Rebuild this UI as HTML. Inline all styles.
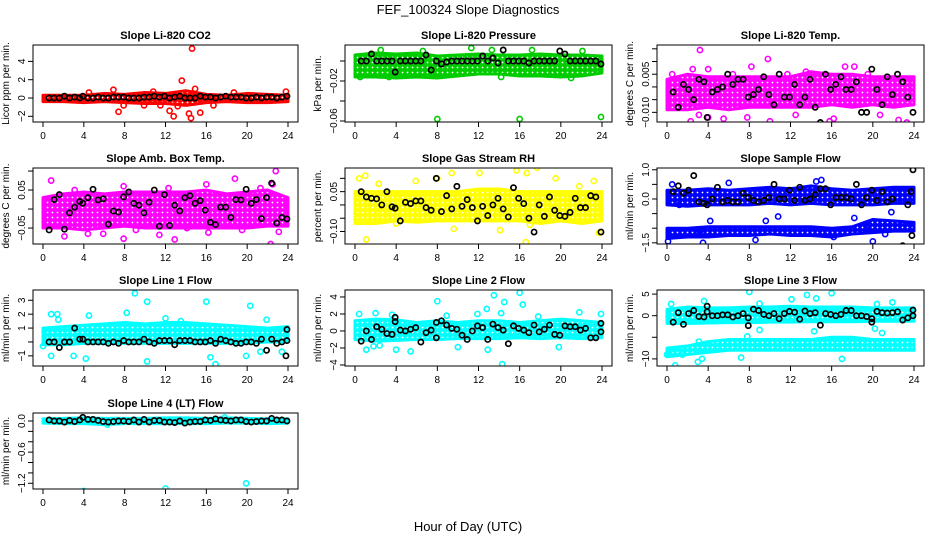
<!DOCTYPE html>
<html><head><meta charset="utf-8"><style>
html,body{margin:0;padding:0;background:#fff}
svg text{font-family:"Liberation Sans",Arial,sans-serif}
</style></head><body>
<svg id="chart" width="936" height="540" viewBox="0 0 936 540" xmlns="http://www.w3.org/2000/svg">
<defs id="defs"></defs>
<text x="468" y="14" text-anchor="middle" font-size="13">FEF_100324  Slope Diagnostics</text>
<text x="468" y="531" text-anchor="middle" font-size="13">Hour of Day (UTC)</text>
</svg>
<script>
const xTicks=[0,4,8,12,16,20,24];
const bandHrs=[0,2,4,6,8,10,12,14,16,18,20,22,24];
const blackHrs=[0.6,1.1,1.6,2.1,2.6,3.1,3.6,3.9,4.4,4.9,5.4,5.9,6.4,6.9,7.4,7.9,8.4,8.9,9.4,9.9,10.4,10.9,11.4,11.9,12.4,12.9,13.4,13.9,14.4,14.9,15.4,15.9,16.4,16.9,17.4,17.9,18.4,18.9,19.4,19.9,20.4,20.9,21.4,21.9,22.4,22.9,23.4,23.9];

// Panel 1: CO2
const co2Lo=[-0.4,-0.4,-0.5,-0.4,-0.5,-0.6,-0.6,-0.8,-0.5,-0.4,-0.5,-0.5,-0.4];
const co2Hi=[0.3,0.3,0.3,0.5,0.4,0.6,0.5,0.8,0.4,0.3,0.5,0.4,0.3];
const co2OutHrs=[14.6,13.6,14.5,12.8,15.4,7.4,14.3,12.4,6.9,14.9,10.8,9.9,13.2,16.7,4.5,18.7,23.8,11.5,7.9];
const co2OutVals=[5.4,1.9,-2.2,-2,-1.6,-1.5,-1.7,-1.4,0.9,1,0.7,-0.8,-0.9,-0.8,0.6,0.6,0.7,-0.8,-0.8];
const co2Black=[0,0,0,0.2,0,0.1,0,0.2,0,0,0.1,0,0,0.1,0.1,0.1,0,0,0,0.1,0.1,0.2,0.1,0.2,0,0.1,0.2,0,0,0,0.2,0.1,0.1,0,0.1,0.2,0.1,0.1,0.1,0,0,0.1,0,0.1,0.1,0,0.1,0.2];
const co2Ticks=[-2,0,2,4];

// Panel 2: Pressure
const prLo=[-0.016,-0.016,-0.017,-0.016,-0.017,-0.015,-0.013,-0.013,-0.015,-0.015,-0.016,-0.015,-0.012];
const prHi=[0.006,0.008,0.007,0.008,0.005,0.006,0.007,0.006,0.006,0.007,0.006,0.006,0.005];
const prOutHrs=[8,16,23.9,11.3,2.5,6.6,13.3,17.2,22.1,21,0.5,3.3,14.2];
const prOutVals=[-0.058,-0.058,-0.056,0.013,0.011,0.01,0.011,0.011,0.01,-0.017,-0.016,-0.016,-0.016];
const prBlack=[0,0,0.007,0,0,0,0,-0.011,0,0,0,0,0,0.006,-0.009,0,-0.003,-0.001,0,0,0,0,0,0,0.005,0,0.003,-0.002,0.011,0,0,0,0,-0.002,0,0,0,0,0,0.01,0.007,0,0,0,0,0,0,-0.003];
const prTicks=[-0.06,-0.04,-0.02,0];

// Panel 3: Li-820 Temp
const ltLo=[-0.009,-0.009,-0.008,-0.009,-0.008,-0.008,-0.008,-0.008,-0.007,-0.008,-0.007,-0.008,-0.007];
const ltHi=[0.003,0.005,0.004,0.004,0.004,0.004,0.004,0.006,0.005,0.005,0.004,0.004,0.004];
const ltOutHrs=[3.2,9.8,8.2,17.3,18.2,2.5,4.0,0.5,2.3,4,10,15.8,18.8,23.3,22.5,13.5,20.7,12.5,3.1,6.4,11.7,19.5,16.2,5.5,7.8];
const ltOutVals=[0.0145,0.011,0.008,0.008,0.008,0.007,0.007,0.005,-0.0135,-0.012,-0.0135,-0.0135,-0.0165,-0.014,-0.013,0.006,-0.011,-0.011,-0.011,0.005,0.005,0.005,-0.0125,-0.0125,-0.012];
const ltBlack=[-0.002,-0.008,0.001,-0.001,-0.005,0.003,0.002,-0.012,-0.002,-0.001,0,0.005,0.001,0.003,0.003,-0.004,-0.003,-0.001,0.004,-0.003,-0.007,0.005,-0.004,-0.004,0.001,-0.007,-0.004,0.003,-0.008,-0.014,0.005,-0.001,0.001,0.004,-0.001,-0.001,0.002,-0.01,-0.01,0.007,-0.001,-0.007,0.004,-0.003,0.005,0.002,-0.004,-0.01];
const ltTicks=[-0.010,-0.005,0,0.005,0.010,0.015];

// Panel 4: Amb Box Temp
const abLo=[-0.05,-0.05,-0.055,-0.05,-0.045,-0.05,-0.05,-0.05,-0.05,-0.05,-0.05,-0.045,-0.045];
const abHi=[0.03,0.04,0.045,0.04,0.045,0.045,0.045,0.045,0.05,0.04,0.045,0.05,0.03];
const abOutHrs=[0.8,18.8,22.8,22.5,16,2.1,4.4,7.9,11.4,12.9,16.2,22.3,23.1,7.9,12.3,21.3,3.1,14.1,9.1,5.9,19.5,1.4];
const abOutVals=[0.075,0.08,0.1,0.065,0.065,-0.072,-0.065,-0.078,-0.068,-0.08,-0.062,-0.092,-0.06,0.06,0.055,0.055,0.05,-0.05,-0.055,-0.065,-0.055,0.03];
const abBlack=[-0.055,0.025,0.038,-0.053,-0.01,0.005,0.02,0.015,0.03,0.052,0.024,0.027,-0.04,-0.005,-0.008,0.032,0.045,0.015,0.01,-0.01,0.018,0.05,-0.045,0.038,-0.043,0.01,-0.005,0.03,0.035,0.015,0.022,-0.003,-0.035,-0.041,0.005,0.005,-0.022,0.025,0.024,0.052,0.015,0.025,-0.025,0.03,0.068,-0.037,-0.022,-0.026];
const abTicks=[-0.05,0,0.05,0.10];

// Panel 5: Gas Stream RH
const rhLo=[-0.07,-0.07,-0.06,-0.065,-0.06,-0.06,-0.06,-0.06,-0.06,-0.07,-0.06,-0.07,-0.06];
const rhHi=[0.05,0.05,0.05,0.05,0.05,0.05,0.06,0.06,0.05,0.05,0.05,0.05,0.05];
const rhOutHrs=[1,0.4,9.4,12.1,15.7,17.7,16.7,23.2,8,1.1,9.6,14.1,16.6,23.7,4,2.3,5.9,19.5,21.8,6,17];
const rhOutVals=[0.11,0.1,0.12,0.12,0.13,0.14,0.12,0.09,0.1,-0.13,-0.09,-0.095,-0.14,-0.105,-0.07,0.08,0.09,0.1,0.07,-0.05,-0.075];
const rhBlack=[0.05,0.03,0.025,0.023,0,0.05,-0.007,-0.012,-0.06,0.01,0.005,0.015,0.015,-0.01,-0.02,0.1,-0.025,0.035,-0.015,0.07,-0.005,0.02,-0.01,-0.06,-0.005,-0.04,0,0.025,-0.015,-0.045,0.065,0.025,0.005,-0.05,-0.102,0,-0.043,0.03,-0.02,-0.04,-0.043,-0.028,0.025,-0.01,-0.01,0.035,0.03,-0.102];
const rhTicks=[-0.10,-0.05,0,0.05,0.10];

// Panel 6: Sample Flow
const sfLo=[-0.2,-0.25,-0.2,-0.2,-0.2,-0.15,-0.2,-0.15,-0.2,-0.2,-0.2,-0.15,-0.15];
const sfHi=[0.3,0.3,0.35,0.3,0.35,0.4,0.35,0.45,0.35,0.3,0.35,0.4,0.4];
const sfLo2=[-1.35,-1.3,-1.3,-1.25,-1.25,-1.2,-1.25,-1.25,-1.3,-1.2,-1.15,-1.1,-1.1];
const sfHi2=[-1.0,-1.0,-0.95,-0.95,-0.95,-0.95,-0.95,-0.95,-1.0,-0.95,-0.7,-0.75,-0.8];
const sfOutHrs=[0.1,3.5,0.5,6,14.5,15,20,21.2,8.6,10.8,9.6,18.2,3.2,16.2,1.2,19.6,21.8,4.2];
const sfOutVals=[-1.45,-1.5,0.5,0.55,0.6,0.65,-1.45,-1.2,-1.4,-0.6,-0.75,-0.65,-1.1,-1.3,-0.2,-0.9,-0.45,-0.75];
const sfBlack=[0.25,0.45,0.2,0.3,0.8,-0.1,-0.15,-0.2,0,0.4,-0.1,-0.05,-0.1,-0.1,0.2,0.05,-0.05,-0.1,-0.05,0.05,0.5,0,0,0.3,-0.05,0.4,-0.05,0,0.15,0.35,0.35,-0.2,0.05,0.05,0.05,0,0.5,-0.2,0.05,0.3,-0.05,0.25,-0.1,0,-1.65,-1.6,-0.2,-1.7];
const sfExtraHrs=[23.9,23.8,23.7];
const sfExtraVals=[1.0,-1.25,0.25];
const sfTicks=[-1.5,-1,-0.5,0,0.5,1];

// Panel 7: Line 1 Flow
const l1Lo=[-0.2,-0.2,-0.1,-0.1,-0.1,-0.1,-0.1,-0.1,-0.1,-0.1,-0.1,0,0];
const l1Hi=[1.0,1.1,1.2,1.3,1.4,1.3,1.4,1.4,1.3,1.2,1.1,1.0,1.1];
const l1OutHrs=[9,10.2,16,20.3,0.8,1.4,4.5,8.2,12,16.9,16.4,10.2,0.8,3,4.2,19.9,21.3,23.4,1.5,21.9,0,13.5];
const l1OutVals=[3.5,2.9,2.9,2.6,2.0,2.0,1.9,2.1,1.7,-1.6,-1.1,-1.4,-1.0,-1.0,-1.2,-1,-0.7,-0.7,1.6,1.6,-0.3,1.5];
const l1Black=[0,0,-0.4,0,0,1.0,0.2,0.2,0,0,0,0,-0.1,0,-0.1,0.1,0,0,0,0.2,0,-0.1,0.1,0.1,0.1,-0.2,0.1,0.1,0.1,0,0,0,0.1,-0.1,0.2,0.1,0,-0.1,-0.1,0,0,-0.1,0.2,-0.6,0.2,-0.1,0,0.9];
const l1ExtraHrs=[23.8,23.9];
const l1ExtraVals=[-1.0,0.1];
const l1Ticks=[-1,0,1,2,3];

// Panel 8: Line 2 Flow
const l2Lo=[-1,-1.2,-1.1,-1,-1,-0.9,-0.9,-0.9,-0.8,-0.9,-0.8,-0.9,-0.8];
const l2Hi=[1.2,1.4,1.3,1.0,1.2,1.0,1.2,1.2,1.0,1.2,1.4,1.2,1.0];
const l2OutHrs=[16,13.5,8,14.5,16.3,12.8,14.2,21.8,0.4,2,5.4,12.9,14.3,10,19.8,1.1,4,1.8,2.4,8.9,17.8,23.9,11.9,3.6];
const l2OutVals=[4.5,4.2,3.5,3.4,3.1,2.6,2.1,2.2,2,2.1,-2.4,-2.2,-3.9,-1.9,-1.9,-2.2,-2.2,-1.8,-1.7,1.8,1.7,2,2,1.9];
const l2Black=[-1.2,0,-1.0,0.5,0.2,-0.3,-0.4,1.6,0.1,0,0.2,0.4,-1.3,-0.2,0.1,1.0,1.2,0.7,0.3,0.2,-0.5,-1.0,0,0.6,0.4,-1.0,0.8,0.4,0.1,-1.5,0.6,0.3,0.1,-0.2,0.7,-0.1,0.2,0.7,-0.4,-0.5,0.6,0.5,0.5,0.1,0.3,-0.8,-0.8,0.9];
const l2ExtraHrs=[23.9,3.9,7.9];
const l2ExtraVals=[-0.1,1.1,-0.8];
const l2Ticks=[-4,-2,0,2,4];

// Panel 9: Line 3 Flow
const l3Lo=[-1.8,-1.8,-1.7,-1.6,-1.6,-1.5,-1.5,-1.4,-1.4,-1.4,-1.3,-1.3,-1.3];
const l3Hi=[1.5,2,1.8,1.8,2,2,2.2,2,2,2,1.8,1.8,1.8];
const l3Lo2=[-9.5,-9,-8.5,-8,-8,-8,-8,-8,-8,-8,-8,-8,-8];
const l3Hi2=[-7.5,-7,-6,-5.5,-5.5,-5.5,-5.5,-5.5,-5,-5,-5.5,-5.5,-5.5];
const l3OutHrs=[0.8,3,3.4,7.2,17,0.3,8,16,13.6,14.5,12.1,21.9,9,20.4,3.6,0.4,20.2,20.9,9,14.3,3.1,7.8,0,1.5];
const l3OutVals=[-11.5,-10.7,-10,-9.7,-10,-8,5.5,5.2,4.8,4,3.8,3.1,2.8,2.7,3.4,2.7,-3,-4,-3.3,-3.6,-6,-4.8,-9,-9];
const l3Black=[-1.5,0.7,-2,0.5,1.2,-0.2,-0.3,2.2,0,0,0.2,0.2,-0.3,0,0.5,-2.3,1.5,1.2,0.3,0,0.5,-0.7,0.5,1,0.8,-0.8,1.1,0.5,0.7,-2.2,0.5,0.3,0,0.3,1.2,1.2,0,0,-0.2,-1.5,1,0.7,0.6,0.7,0.9,-1,-0.5,1.3];
const l3ExtraHrs=[23.9,19.9,3.9,7.9];
const l3ExtraVals=[0,-0.7,0.9,-0.5];
const l3Ticks=[-10,-5,0,5];

// Panel 10: Line 4 (LT) Flow
const l4Lo=[-0.04,-0.05,-0.05,-0.07,-0.05,-0.05,-0.05,-0.05,-0.05,-0.04,-0.04,-0.05,-0.04];
const l4Hi=[0.04,0.05,0.06,0.05,0.05,0.05,0.06,0.06,0.05,0.06,0.05,0.04,0.04];
const l4OutHrs=[4,12,19.9,17.8,6.3];
const l4OutVals=[-1.35,-1.3,-1.2,0.07,-0.07];
const l4Black=[0.02,0,0,-0.02,0.01,-0.01,0.02,0.07,0.03,0.03,0.01,-0.01,-0.02,-0.01,0,0,-0.01,0.02,-0.02,0.03,-0.02,0.01,0.01,-0.02,-0.02,-0.03,0,-0.04,-0.02,-0.01,-0.01,0.02,0.01,0.04,0.02,0.01,0,0.02,0.02,-0.01,-0.02,-0.01,0,0,0.05,0.02,0.02,0];
const l4Ticks=[-1.2,-1.0,-0.8,-0.6,-0.4,-0.2,0];

const colX0=[43,355,667], colX24=[288,602,914];
const rowTop=[45,168,290,413], rowBot=[122,244,366,489];

const panels=[
 {id:'co2',title:'Slope Li-820 CO2',yl:'Licor ppm per min.',col:'#ff0000',c:0,r:0,dom:[-2.62,5.79],ticks:co2Ticks,lab:[-2,0,2,4],fmt:v=>String(v),bands:[[co2Lo,co2Hi]],oh:co2OutHrs,ov:co2OutVals,bk:co2Black},
 {id:'pressure',title:'Slope Li-820 Pressure',yl:'kPa per min.',col:'#00cc00',c:1,r:0,dom:[-0.061,0.016],ticks:prTicks,lab:[-0.06,-0.02],fmt:v=>v.toFixed(2),bands:[[prLo,prHi]],oh:prOutHrs,ov:prOutVals,bk:prBlack},
 {id:'li820-temp',title:'Slope Li-820 Temp.',yl:'degrees C per min.',col:'#ff00ff',c:2,r:0,dom:[-0.0138,0.0165],ticks:ltTicks,lab:[-0.010,0.005],fmt:v=>v.toFixed(3),bands:[[ltLo,ltHi]],oh:ltOutHrs,ov:ltOutVals,bk:ltBlack},
 {id:'amb-box-temp',title:'Slope Amb. Box Temp.',yl:'degrees C per min.',col:'#ff00ff',c:0,r:1,dom:[-0.092,0.108],ticks:abTicks,lab:[-0.05,0.05],fmt:v=>v.toFixed(2),bands:[[abLo,abHi]],oh:abOutHrs,ov:abOutVals,bk:abBlack},
 {id:'gas-stream-rh',title:'Slope Gas Stream RH',yl:'percent per min.',col:'#ffff00',c:1,r:1,dom:[-0.147,0.139],ticks:rhTicks,lab:[-0.10,0.05],fmt:v=>v.toFixed(2),bands:[[rhLo,rhHi]],oh:rhOutHrs,ov:rhOutVals,bk:rhBlack},
 {id:'sample-flow',title:'Slope Sample Flow',yl:'ml/min per min.',col:'#0000ff',c:2,r:1,dom:[-1.54,1.06],ticks:sfTicks,lab:[-1.5,0,1],fmt:v=>v.toFixed(1),bands:[[sfLo,sfHi],[sfLo2,sfHi2]],oh:sfOutHrs,ov:sfOutVals,bk:sfBlack,eh:sfExtraHrs,ev:sfExtraVals},
 {id:'line1-flow',title:'Slope Line 1 Flow',yl:'ml/min per min.',col:'#00ffff',c:0,r:2,dom:[-1.73,3.74],ticks:l1Ticks,lab:[-1,1,2,3],fmt:v=>String(v),bands:[[l1Lo,l1Hi]],oh:l1OutHrs,ov:l1OutVals,bk:l1Black,eh:l1ExtraHrs,ev:l1ExtraVals},
 {id:'line2-flow',title:'Slope Line 2 Flow',yl:'ml/min per min.',col:'#00ffff',c:1,r:2,dom:[-4.12,4.82],ticks:l2Ticks,lab:[-4,-2,0,2,4],fmt:v=>String(v),bands:[[l2Lo,l2Hi]],oh:l2OutHrs,ov:l2OutVals,bk:l2Black,eh:l2ExtraHrs,ev:l2ExtraVals},
 {id:'line3-flow',title:'Slope Line 3 Flow',yl:'ml/min per min.',col:'#00ffff',c:2,r:2,dom:[-11.65,5.95],ticks:l3Ticks,lab:[-10,0,5],fmt:v=>String(v),bands:[[l3Lo,l3Hi],[l3Lo2,l3Hi2]],oh:l3OutHrs,ov:l3OutVals,bk:l3Black,eh:l3ExtraHrs,ev:l3ExtraVals},
 {id:'line4-flow',title:'Slope Line 4 (LT) Flow',yl:'ml/min per min.',col:'#00ffff',c:0,r:3,dom:[-1.31,0.154],ticks:l4Ticks,lab:[-1.2,-0.6,0],fmt:v=>v.toFixed(1),bands:[[l4Lo,l4Hi]],oh:l4OutHrs,ov:l4OutVals,bk:l4Black}
];

const NS='http://www.w3.org/2000/svg';
const svg=document.getElementById('chart');
const defs=document.getElementById('defs');
function mk(tag,attrs,parent){const e=document.createElementNS(NS,tag);for(const k in attrs)e.setAttribute(k,attrs[k]);parent.appendChild(e);return e;}

const madePat={};
function pattern(col){
  const id='pat'+col.replace('#','');
  if(!madePat[id]){
    const pt=mk('pattern',{id:id,width:5,height:5,patternUnits:'userSpaceOnUse'},defs);
    mk('rect',{x:0,y:0,width:5,height:5,fill:col},pt);
    mk('circle',{cx:2.5,cy:2.5,r:0.9,fill:'#fff'},pt);
    madePat[id]=1;
  }
  return 'url(#'+id+')';
}

panels.forEach(p=>{
  const x0=colX0[p.c],x24=colX24[p.c],top=rowTop[p.r],bot=rowBot[p.r];
  const left=x0-10,right=x24+10;
  const xs=h=>x0+(x24-x0)*h/24;
  const ys=v=>bot-(v-p.dom[0])/(p.dom[1]-p.dom[0])*(bot-top);
  const g=mk('g',{},svg);
  
  
  const t=mk('text',{x:(left+right)/2,y:top-6,'text-anchor':'middle','font-size':'11','font-weight':'bold'},g);
  
  
  t.textContent=p.title;
  const yl=mk('text',{transform:`translate(${left-24},${(top+bot)/2}) rotate(-90)`,'text-anchor':'middle','font-size':'10'},g);
  
  
  yl.textContent=p.yl;
  const clipId='clip-'+p.id;
  const cp=mk('clipPath',{id:clipId},g);
  mk('rect',{x:left,y:top,width:right-left,height:bot-top},cp);
  const pg=mk('g',{'clip-path':`url(#${clipId})`},g);
  
  
  p.bands.forEach(b=>{
    const lo=b[0],hi=b[1];
    let pts=bandHrs.map((h,i)=>xs(h)+','+ys(hi[i]));
    pts=pts.concat(bandHrs.map((h,i)=>xs(h)+','+ys(lo[i])).reverse());
    const poly=mk('polygon',{points:pts.join(' '),fill:pattern(p.col),stroke:p.col,'stroke-width':3,'stroke-linejoin':'round'},pg);
    
    
  });
  p.oh.forEach((h,i)=>{
    const c=mk('circle',{cx:xs(h),cy:ys(p.ov[i]),r:2.6,fill:'none',stroke:p.col,'stroke-width':1.6},pg);
    
    
  });
  p.bk.forEach((v,i)=>{
    const c=mk('circle',{cx:xs(blackHrs[i]),cy:ys(v),r:2.6,fill:'none',stroke:'#000','stroke-width':1.7},pg);
    
    
  });
  (p.eh||[]).forEach((h,i)=>{
    const c=mk('circle',{cx:xs(h),cy:ys(p.ev[i]),r:2.6,fill:'none',stroke:'#000','stroke-width':1.7},pg);
    
    
  });
  const box=mk('rect',{x:left,y:top,width:right-left,height:bot-top,fill:'none',stroke:'#000','stroke-width':1},g);
  
  
  xTicks.forEach(h=>{
    mk('line',{x1:xs(h),x2:xs(h),y1:bot,y2:bot+5,stroke:'#000'},g);
    const tl=mk('text',{x:xs(h),y:bot+17,'text-anchor':'middle','font-size':'10'},g);
    
    
    tl.textContent=h;
  });
  p.ticks.forEach(v=>{
    mk('line',{x1:left,x2:left-5,y1:ys(v),y2:ys(v),stroke:'#000'},g);
  });
  p.lab.forEach(v=>{
    const tl=mk('text',{transform:`translate(${left-8},${ys(v)}) rotate(-90)`,'text-anchor':'middle','font-size':'10'},g);
    
    
    tl.textContent=p.fmt(v).replace('-','\u2212');
  });
});
</script>
</body></html>
